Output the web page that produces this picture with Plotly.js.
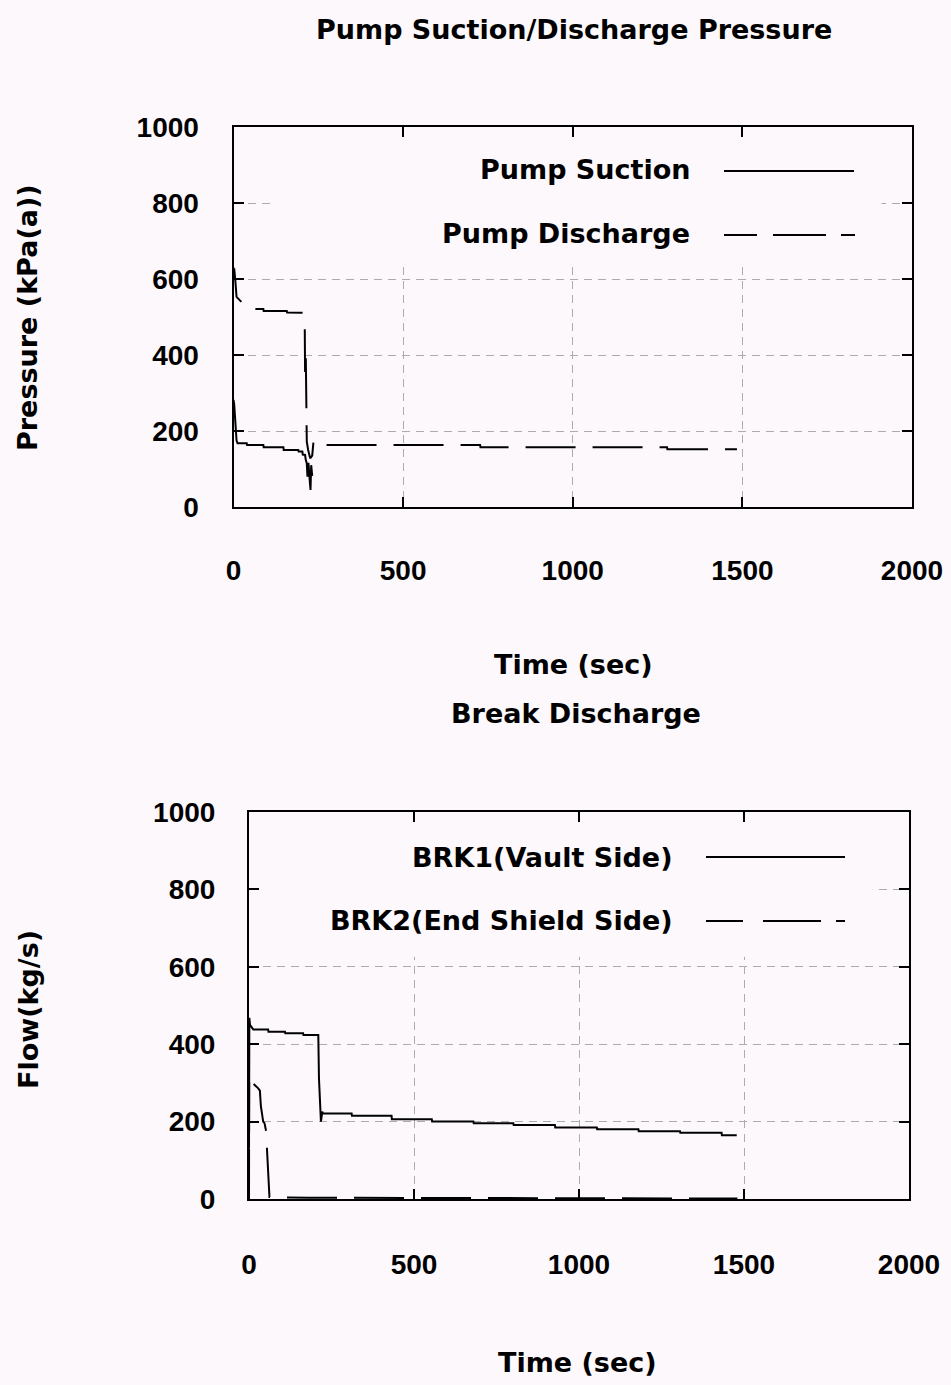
<!DOCTYPE html>
<html>
<head>
<meta charset="utf-8">
<script src="https://cdn.plot.ly/plotly-3.0.1.min.js"></script>
<style>
html,body{margin:0;padding:0;background:#fcf8fc;}
#chart{width:951px;height:1385px;}
</style>
</head>
<body>
<div id="chart"></div>
<script>
// ---- Data ----
const xTickVals = [0, 500, 1000, 1500, 2000];
const xTickText = ["0", "500", "1000", "1500", "2000"];
const yTickVals = [0, 200, 400, 600, 800, 1000];
const yTickText = ["0", "200", "400", "600", "800", "1000"];

// Top chart: Pump Suction / Discharge Pressure (kPa(a)) vs time (sec)
const suctionTime = [0, 2, 5, 9, 12, 39, 40, 88, 89, 147, 148, 191, 192, 203, 204, 211, 213, 216, 218, 221, 224, 227, 229, 232];
const suctionPres = [282, 270, 230, 175, 168, 168, 163, 163, 157, 157, 150, 150, 146, 146, 138, 137, 124, 115, 80, 116, 78, 45, 110, 82];

const dischargeTime = [0, 1, 2, 5, 9, 44, 88, 89, 157, 158, 205, 210, 211, 213, 214, 215, 216, 220, 226, 232, 236, 244, 727, 728, 1278, 1279, 1484];
const dischargePres = [630, 610, 628, 600, 553, 521, 521, 516, 516, 512, 511, 479, 355, 405, 300, 230, 172, 150, 128, 135, 174, 163, 163, 157, 157, 152, 152];

// Bottom chart: Break discharge flow (kg/s) vs time (sec)
const brk1Time = [0, 1, 3, 13, 58, 59, 109, 110, 164, 165, 210, 212, 215, 218, 222, 224,
  311, 312, 432, 433, 554, 555, 680, 681, 801, 802, 927, 928, 1054, 1055, 1180, 1181, 1306, 1307, 1432, 1433, 1478];
const brk1Flow = [130, 468, 450, 438, 438, 432, 432, 428, 428, 424, 424, 312, 250, 200, 226, 221,
  221, 215, 215, 206, 206, 200, 200, 196, 196, 191, 191, 185, 185, 180, 180, 175, 175, 171, 171, 165, 165];

const brk2Time = [0, 0.5, 3, 10, 28, 33, 36, 38, 43, 47, 52, 55, 58, 62, 120, 180, 300, 600, 1000, 1480];
const brk2Flow = [0, 320, 316, 300, 286, 280, 240, 230, 200, 196, 175, 120, 55, 5, 4, 3, 3, 2, 2, 1];

const seriesNames = ["Pump Suction", "Pump Discharge", "BRK1(Vault Side)", "BRK2(End Shield Side)"];

// ---- Styling ----
const W = 951, H = 1385, BG = "#fcf8fc";
const px = v => v / W;            // horizontal pixel -> paper
const py = v => 1 - v / H;        // vertical pixel -> paper
const tickFont = {family: "Liberation Sans, Arial, sans-serif", size: 28, color: "#000", weight: "bold"};
const textFont = {family: "DejaVu Sans, sans-serif", size: 27, color: "#000", weight: "bold"};
const dashPat = "50px,17px";

const traces = [
  {x: suctionTime, y: suctionPres, xaxis: "x", yaxis: "y", name: seriesNames[0], mode: "lines",
   line: {color: "#000", width: 2}, showlegend: false, hoverinfo: "skip"},
  {x: dischargeTime, y: dischargePres, xaxis: "x", yaxis: "y", name: seriesNames[1], mode: "lines",
   line: {color: "#000", width: 2, dash: dashPat}, showlegend: false, hoverinfo: "skip"},
  {x: brk1Time, y: brk1Flow, xaxis: "x2", yaxis: "y2", name: seriesNames[2], mode: "lines",
   line: {color: "#000", width: 2}, showlegend: false, hoverinfo: "skip"},
  {x: brk2Time, y: brk2Flow, xaxis: "x2", yaxis: "y2", name: seriesNames[3], mode: "lines",
   line: {color: "#000", width: 2, dash: dashPat}, showlegend: false, hoverinfo: "skip"}
];

function xAx(domain, anchor, standoff) {
  return {domain: domain, anchor: anchor, range: [0, 2000], tickvals: xTickVals, ticktext: xTickText,
    ticks: "inside", ticklen: 10, tickwidth: 2, tickcolor: "#000", mirror: "ticks",
    showline: true, linecolor: "#000", linewidth: 2, showgrid: true, gridcolor: "#acacac",
    griddash: "8px,6px", gridwidth: 1, zeroline: false, tickfont: tickFont, ticklabelstandoff: standoff,
    fixedrange: true};
}
function yAx(domain, anchor, standoff) {
  return {domain: domain, anchor: anchor, range: [0, 1000], tickvals: yTickVals, ticktext: yTickText,
    ticks: "inside", ticklen: 10, tickwidth: 2, tickcolor: "#000", mirror: "ticks",
    showline: true, linecolor: "#000", linewidth: 2, showgrid: true, gridcolor: "#acacac",
    griddash: "8px,6px", gridwidth: 1, zeroline: false, tickfont: tickFont, ticklabelstandoff: standoff,
    fixedrange: true};
}

const ann = (text, x, y, opts) => Object.assign({text: text, x: x, y: y, xref: "paper", yref: "paper",
  showarrow: false, font: textFont, xanchor: "center", yanchor: "middle"}, opts || {});

const annotations = [
  ann("Pump Suction/Discharge Pressure", px(574), py(30)),
  ann("Time (sec)", px(573), py(665)),
  ann("Break Discharge", px(576), py(713)),
  ann("Time (sec)", px(577), py(1362)),
  ann("Pressure (kPa(a))", px(28), py(318), {textangle: -90}),
  ann("Flow(kg/s)", px(28), py(1010), {textangle: -90}),
  ann(seriesNames[0], px(692), py(170), {xanchor: "right"}),
  ann(seriesNames[1], px(692), py(234), {xanchor: "right"}),
  ann(seriesNames[2], px(675), py(857), {xanchor: "right"}),
  ann(seriesNames[3], px(675), py(920), {xanchor: "right"})
];

const seg = (x0, x1, y) => ({type: "line", xref: "paper", yref: "paper", x0: px(x0), x1: px(x1),
  y0: py(y), y1: py(y), line: {color: "#000", width: 2}, layer: "above"});

const shapes = [
  // key boxes hide the grid behind the keys (as in the original)
  {type: "rect", xref: "x", yref: "y", x0: 119, x1: 1910, y0: 634, y1: 1000, fillcolor: BG,
   line: {width: 0}, layer: "between"},
  {type: "rect", xref: "x2", yref: "y2", x0: 28, x1: 1890, y0: 626, y1: 1000, fillcolor: BG,
   line: {width: 0}, layer: "between"},
  // key samples
  seg(724, 854, 171),
  seg(724, 757, 235), seg(773, 826, 235), seg(841, 855, 235),
  seg(706, 845, 857),
  seg(706, 743, 921), seg(763, 821, 921), seg(836, 845, 921)
];

const layout = {
  width: W, height: H, margin: {l: 0, r: 0, t: 0, b: 0},
  paper_bgcolor: BG, plot_bgcolor: BG, showlegend: false,
  xaxis: xAx([px(233.5), px(912)], "y", 37),
  yaxis: yAx([py(507), py(127)], "x", 27),
  xaxis2: xAx([px(249), px(909)], "y2", 39),
  yaxis2: yAx([py(1199), py(812)], "x2", 26),
  annotations: annotations,
  shapes: shapes
};

Plotly.newPlot("chart", traces, layout, {staticPlot: true, displayModeBar: false});
</script>
</body>
</html>
